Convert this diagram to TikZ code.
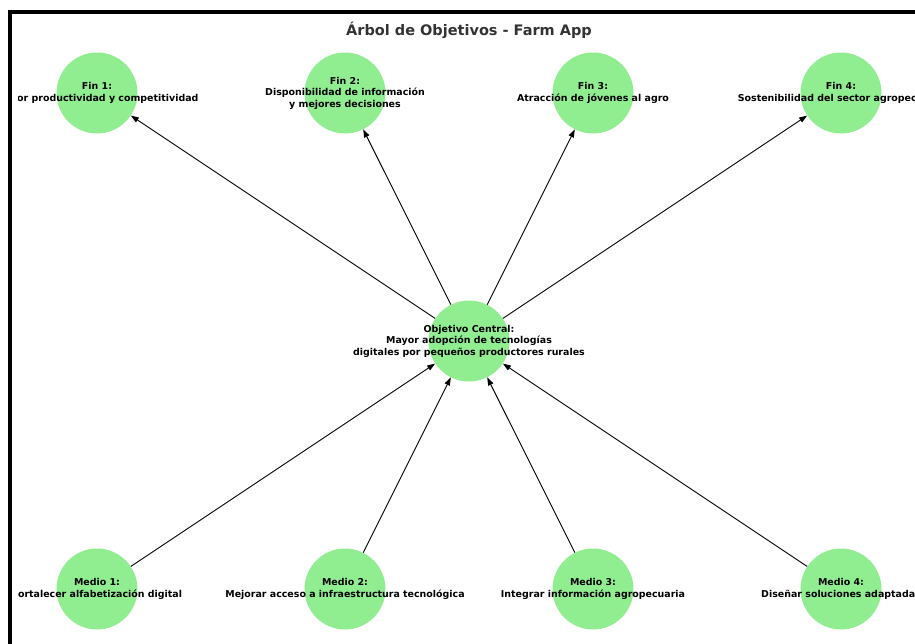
\documentclass[tikz,border=0pt]{standalone}
\usepackage{fontspec}
\setmainfont{DejaVu Sans}
\usepackage{tikz}
\usetikzlibrary{arrows.meta}
\definecolor{leafgreen}{HTML}{90EE90}
\definecolor{titlegray}{HTML}{333333}
\def\thickness{0.9pt}
\tikzstyle{goal}=[circle, fill=leafgreen, draw=none, minimum size=81pt, inner sep=0pt]
\tikzstyle{goaltext}=[align=center, inner sep=0pt, font=\bfseries\fontsize{9.45}{11.5}\selectfont]
\tikzstyle{link}=[line width=\thickness, -{Triangle[length=8pt,width=5.5pt]}]

\begin{document}
\begin{tikzpicture}[x=1pt, y=-1pt]
\useasboundingbox (0,0) rectangle (915,643);
\clip (0,0) rectangle (915,643);
\draw[line width=4pt] (10,700) -- (10,12) -- (960,12);
\node[font=\bfseries\fontsize{14.5}{17}\selectfont, text=titlegray] (title) at (469,30) {Árbol de Objetivos - Farm App};
\begin{scope}
\clip (18,14) rectangle (915,643);
% fines
\node [goal] (f1) at (97,93) {};
\node [goal] (f2) at (345,93) {};
\node [goal] (f3) at (593,93) {};
\node [goal] (f4) at (841,93) {};
% objetivo central
\node [goal] (c) at (469,341) {};
% medios
\node [goal] (m1) at (97,589) {};
\node [goal] (m2) at (345,589) {};
\node [goal] (m3) at (593,589) {};
\node [goal] (m4) at (841,589) {};
\draw [link] (c) -- (f1);
\draw [link] (c) -- (f2);
\draw [link] (c) -- (f3);
\draw [link] (c) -- (f4);
\draw [link] (m1) -- (c);
\draw [link] (m2) -- (c);
\draw [link] (m3) -- (c);
\draw [link] (m4) -- (c);
\node [goaltext] (f1t) at (f1) {Fin 1:\\Mayor productividad y competitividad};
\node [goaltext] (f2t) at (f2) {Fin 2:\\Disponibilidad de información\\y mejores decisiones};
\node [goaltext] (f3t) at (f3) {Fin 3:\\Atracción de jóvenes al agro};
\node [goaltext] (f4t) at (f4) {Fin 4:\\Sostenibilidad del sector agropecuario};
\node [goaltext] (ct) at (c) {Objetivo Central:\\Mayor adopción de tecnologías\\digitales por pequeños productores rurales};
\node [goaltext] (m1t) at (m1) {Medio 1:\\Fortalecer alfabetización digital};
\node [goaltext] (m2t) at (m2) {Medio 2:\\Mejorar acceso a infraestructura tecnológica};
\node [goaltext] (m3t) at (m3) {Medio 3:\\Integrar información agropecuaria};
\node [goaltext] (m4t) at (m4) {Medio 4:\\Diseñar soluciones adaptadas};
\end{scope}
\end{tikzpicture}
\end{document}
